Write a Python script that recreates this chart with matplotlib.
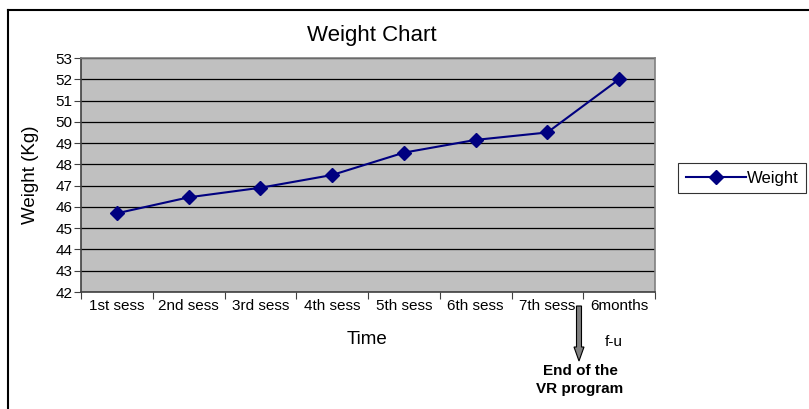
import matplotlib
matplotlib.use('Agg')
import matplotlib.pyplot as plt
from matplotlib.lines import Line2D
from matplotlib.patches import FancyArrow

plt.rcParams['font.family'] = ['Liberation Sans', 'DejaVu Sans']

sessions = ['1st sess', '2nd sess', '3rd sess', '4th sess', '5th sess',
            '6th sess', '7th sess', '6months']
weight = [45.7, 46.45, 46.9, 47.5, 48.55, 49.15, 49.5, 52.0]
y_ticks = list(range(42, 54))

W, H = 809, 409
fig = plt.figure(figsize=(W / 100, H / 100), dpi=100)

def fx(px):
    return px / W

def fy(py):
    return 1 - py / H

# outer chart frame (runs off the right and bottom edges)
fig.add_artist(Line2D([fx(8), 1.0], [fy(10), fy(10)], color='black', lw=1.5))
fig.add_artist(Line2D([fx(8), fx(8)], [fy(10), 0.0], color='black', lw=1.5))

ax = fig.add_axes([fx(81), fy(292), fx(655) - fx(81), fy(58) - fy(292)])
ax.set_facecolor('#c0c0c0')

x = list(range(len(sessions)))
ax.plot(x, weight, color='#000080', lw=1.5, marker='D', ms=7,
        label='Weight', zorder=3)

ax.set_xlim(-0.5, len(sessions) - 0.5)
ax.set_ylim(42, 53)
ax.set_yticks(y_ticks)
ax.set_yticklabels([str(t) for t in y_ticks], fontsize=11)
ax.yaxis.grid(True, color='black', lw=0.9)
ax.set_axisbelow(True)

ax.set_xticks([i - 0.5 for i in range(len(sessions) + 1)])
ax.set_xticklabels([])
ax.set_xticks(x, minor=True)
ax.set_xticklabels(sessions, minor=True, fontsize=11)
ax.tick_params(axis='x', which='minor', length=0, pad=5)
ax.tick_params(axis='x', which='major', length=5, direction='out', color='#404040')
ax.tick_params(axis='y', length=5, direction='out', color='#404040', pad=1)

for side in ['left', 'bottom']:
    ax.spines[side].set_color('#404040')
    ax.spines[side].set_linewidth(1.2)
for side in ['right', 'top']:
    ax.spines[side].set_color('#808080')
    ax.spines[side].set_linewidth(1.2)

fig.text(fx(372), fy(36), 'Weight Chart', fontsize=16, ha='center', va='center')
fig.text(fx(31), fy(175), 'Weight (Kg)', fontsize=13.5, rotation=90,
         ha='center', va='center')
fig.text(fx(367), fy(340), 'Time', fontsize=13.5, ha='center', va='center')
fig.text(fx(614), fy(342), 'f-u', fontsize=11, ha='center', va='center')
fig.text(fx(580), fy(380), 'End of the\nVR program', fontsize=11, fontweight='bold',
         ha='center', va='center', linespacing=1.35)

fig.add_artist(FancyArrow(
    fx(579), fy(306), 0, fy(361) - fy(306), width=fx(5), head_width=fx(10),
    head_length=(fy(347) - fy(361)), length_includes_head=True,
    transform=fig.transFigure, facecolor='#808080', edgecolor='black', lw=0.8))

leg = ax.legend(loc='center left', bbox_to_anchor=(fx(678), fy(178)),
                bbox_transform=fig.transFigure, fontsize=12, frameon=True,
                fancybox=False, edgecolor='black', handlelength=3.6,
                borderpad=0.45, handletextpad=0.1, borderaxespad=0)
leg.get_frame().set_linewidth(0.8)

fig.savefig('out.png', dpi=100)
